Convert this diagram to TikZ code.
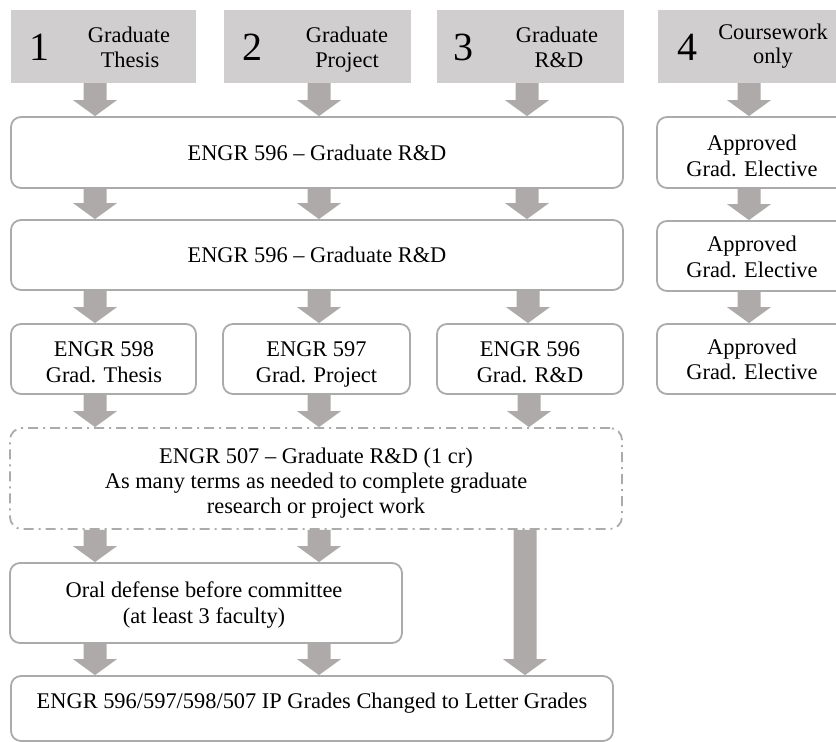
\documentclass[tikz,border=0pt]{standalone}
\usepackage{fontspec}
\setmainfont{Liberation Serif}
\usetikzlibrary{calc}
\definecolor{hdrgray}{HTML}{D0CECE}
\definecolor{arrgray}{HTML}{AEAAAA}
\definecolor{brdgray}{HTML}{ABABAB}
\newcommand{\blkarrow}[3]{%
  \fill[arrgray] let \p1=(#2.south), \p2=(#3.north) in
   ({#1-11.5},\y1) -- ({#1+11.5},\y1) -- ({#1+11.5},{\y2+16pt}) -- ({#1+22},{\y2+16pt})
   -- (#1,\y2) -- ({#1-22},{\y2+16pt}) -- ({#1-11.5},{\y2+16pt}) -- cycle;}
\tikzset{
  hdrbox/.style={fill=hdrgray, draw=none, inner sep=0pt},
  rbox/.style={draw=brdgray, line width=1.8pt, rounded corners=10pt, fill=white, inner sep=0pt},
  dbox/.style={draw=brdgray, line width=1.8pt, rounded corners=12pt, dash pattern=on 10pt off 5pt on 2pt off 5pt, inner sep=0pt},
  txt/.style={anchor=base, inner sep=0pt, font=\fontsize{22.4}{25}\selectfont},
  num/.style={anchor=base, inner sep=0pt, font=\fontsize{40}{40}\selectfont}
}
\begin{document}
\begin{tikzpicture}[x=1pt, y=-1pt]
\useasboundingbox (0,0) rectangle (836,742);
\clip (0,0) rectangle (836,742);
% header boxes
\node[hdrbox, minimum width=185pt, minimum height=73pt] (h1) at (103.5,46.5) {};
\node[hdrbox, minimum width=187pt, minimum height=73pt] (h2) at (317.5,46.5) {};
\node[hdrbox, minimum width=187pt, minimum height=73pt] (h3) at (530.5,46.5) {};
\node[hdrbox, minimum width=188pt, minimum height=73pt] (h4) at (752,46.5) {};
% main boxes
\node[rbox, minimum width=612pt, minimum height=71pt] (b1) at (317,152.5) {};
\node[rbox, minimum width=612pt, minimum height=70pt] (b2) at (317,255) {};
\node[rbox, minimum width=185pt, minimum height=70pt] (r1) at (103.5,359) {};
\node[rbox, minimum width=187pt, minimum height=70pt] (r2) at (316.5,359) {};
\node[rbox, minimum width=186pt, minimum height=70pt] (r3) at (530,359) {};
\node[rbox, minimum width=190pt, minimum height=71pt] (a1) at (752,152.5) {};
\node[rbox, minimum width=190pt, minimum height=70pt] (a2) at (752,256) {};
\node[rbox, minimum width=190pt, minimum height=70pt] (a3) at (752,359) {};
\node[dbox, minimum width=612pt, minimum height=101pt] (d) at (316,478.5) {};
\node[rbox, minimum width=392pt, minimum height=80pt] (o) at (206,603) {};
\node[rbox, minimum width=602pt, minimum height=65pt] (f) at (312,708.5) {};
% header texts
\node[num] (n1) at (39,60) {1};
\node[txt] (h1a) at (129,42) {Graduate};
\node[txt] (h1b) at (130,67) {Thesis};
\node[num] (n2) at (252,60) {2};
\node[txt] (h2a) at (347,42) {Graduate};
\node[txt] (h2b) at (347,67) {Project};
\node[num] (n3) at (463,60) {3};
\node[txt] (h3a) at (557,42) {Graduate};
\node[txt] (h3b) at (559,67) {R\&D};
\node[num] (n4) at (687,60) {4};
\node[txt] (h4a) at (773,39) {Coursework};
\node[txt] (h4b) at (773,63) {only};
% box texts
\node[txt] (b1t) at (317,160) {ENGR 596 -- Graduate R\&D};
\node[txt] (b2t) at (317,262) {ENGR 596 -- Graduate R\&D};
\node[txt] (r1a) at (104,356) {ENGR 598};
\node[txt] (r1b) at (104,382) {Grad. Thesis};
\node[txt] (r2a) at (316.5,356) {ENGR 597};
\node[txt] (r2b) at (316.5,382) {Grad. Project};
\node[txt] (r3a) at (530,356) {ENGR 596};
\node[txt] (r3b) at (530,382) {Grad. R\&D};
\node[txt] (a1a) at (752,150) {Approved};
\node[txt] (a1b) at (752,176) {Grad. Elective};
\node[txt] (a2a) at (752,251) {Approved};
\node[txt] (a2b) at (752,277) {Grad. Elective};
\node[txt] (a3a) at (752,354) {Approved};
\node[txt] (a3b) at (752,379) {Grad. Elective};
\node[txt] (da) at (316,463) {ENGR 507 -- Graduate R\&D (1 cr)};
\node[txt] (db) at (316,488) {As many terms as needed to complete graduate};
\node[txt] (dc) at (316,513) {research or project work};
\node[txt] (oa) at (204,597) {Oral defense before committee};
\node[txt] (ob) at (204,623) {(at least 3 faculty)};
\node[txt] (ft) at (312,708) {ENGR 596/597/598/507 IP Grades Changed to Letter Grades};
% arrows
\blkarrow{95}{h1}{b1}
\blkarrow{319}{h2}{b1}
\blkarrow{527}{h3}{b1}
\blkarrow{749}{h4}{a1}
\blkarrow{95}{b1}{b2}
\blkarrow{319}{b1}{b2}
\blkarrow{527}{b1}{b2}
\blkarrow{749}{a1}{a2}
\blkarrow{749}{a2}{a3}
\blkarrow{95}{b2}{r1}
\blkarrow{319}{b2}{r2}
\blkarrow{528}{b2}{r3}
\blkarrow{95}{r1}{d}
\blkarrow{319}{r2}{d}
\blkarrow{529}{r3}{d}
\blkarrow{95}{d}{o}
\blkarrow{319}{d}{o}
\blkarrow{95}{o}{f}
\blkarrow{319}{o}{f}
\blkarrow{525}{d}{f}
\end{tikzpicture}
\end{document}
